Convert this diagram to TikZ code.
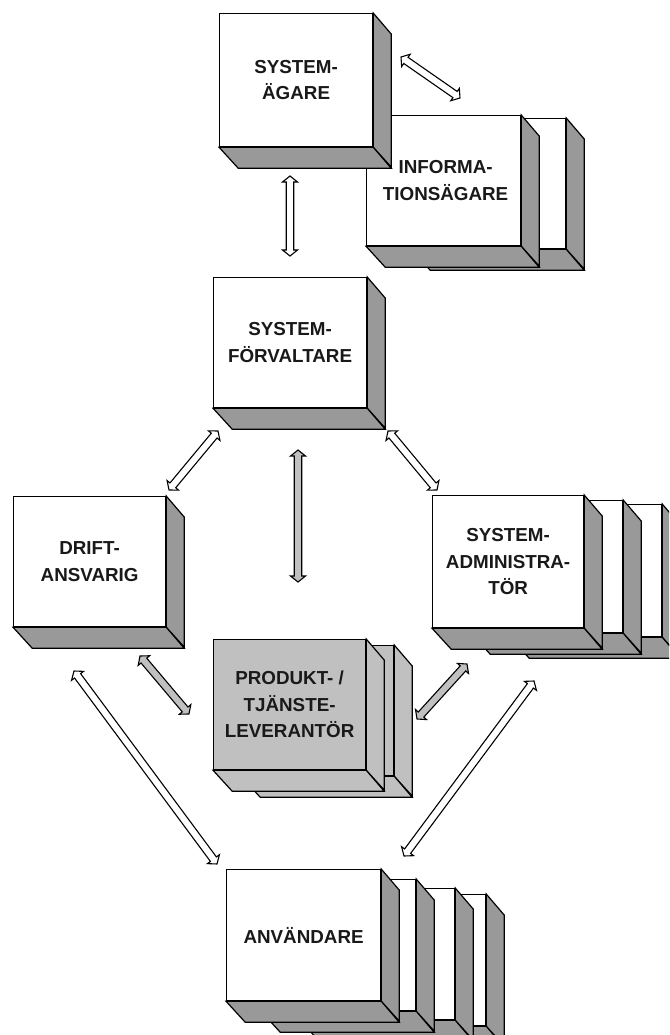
\documentclass[tikz,border=0pt]{standalone}
\usepackage{fontspec}
\setmainfont{Liberation Sans}
\usetikzlibrary{calc}

\definecolor{facegray}{RGB}{153,153,153}
\definecolor{prodgray}{RGB}{192,192,192}

\tikzset{
  slabtext/.style={inner sep=0, align=center, text=black!90,
    font=\fontsize{18.8}{26.5}\selectfont\bfseries},
  slabface/.style={slabtext, draw=black, line width=1.2, anchor=north west},
  slabedge/.style={draw=black, line width=1.2, line join=miter},
  arrowline/.style={draw=black, line width=1.1, line join=miter},
}

% depth of the bevelled sides
\newcommand\slabdx{18}
\newcommand\slabdy{21}

% #1 name, #2 left, #3 top, #4 width, #5 height, #6 face fill, #7 side fill, #8 label
\newcommand\slab[8]{%
  \node[slabface, fill=#6, minimum width=#4, minimum height=#5] (#1) at (#2,#3) {#8};
  \filldraw[slabedge, fill=#7] (#1.north east) -- ++(\slabdx,\slabdy) -- ++(0,#5)
     -- (#1.south east) -- cycle;
  \filldraw[slabedge, fill=#7] (#1.south west) -- (#1.south east) -- ++(\slabdx,\slabdy)
     -- ++(-#4,0) -- cycle;
}

% hollow double-headed block arrow from #1 to #2, filled with #3
\newcommand\blockarrow[3]{%
  \pgfpointdiff{\pgfpointanchor{#1}{center}}{\pgfpointanchor{#2}{center}}%
  \pgfgetlastxy{\arrdx}{\arrdy}%
  \pgfmathsetmacro\arrang{atan2(\arrdy,\arrdx)}%
  \pgfmathsetmacro\arrlen{veclen(\arrdx,\arrdy)}%
  \pgfmathsetmacro\arrback{\arrlen-6}%
  \begin{scope}[shift={(#1)}, rotate=\arrang]
    \filldraw[arrowline, fill=#3] (0,0) -- (6,7.5) -- (6,3.75) -- (\arrback,3.75)
      -- (\arrback,7.5) -- (\arrlen,0) -- (\arrback,-7.5) -- (\arrback,-3.75)
      -- (6,-3.75) -- (6,-7.5) -- cycle;
  \end{scope}}

\begin{document}
\begin{tikzpicture}[x=1pt,y=-1pt]
\useasboundingbox (0,0) rectangle (669,1035);
\clip (0,0) rectangle (669,1035);
\fill[white] (0,0) rectangle (669,1035);

% information owners (stack of two)
\slab{info2}{411}{118}{154}{130}{white}{facegray}{}
\slab{info}{366}{115}{154}{130}{white}{facegray}{}

% system owner, in front of the information owners
\slab{sysag}{219}{13}{153}{133}{white}{facegray}{SYSTEM-\\ÄGARE}
\node[slabtext] (info-text) at ([xshift=2]info.center) {INFORMA-\\TIONSÄGARE};

% system manager
\slab{forv}{213}{277}{153}{130}{white}{facegray}{SYSTEM-\\FÖRVALTARE}

% operations
\slab{drift}{13}{496}{152}{130}{white}{facegray}{DRIFT-\\ANSVARIG}

% system administrators (stack of three)
\slab{adm3}{510}{504}{151}{132}{white}{facegray}{}
\slab{adm2}{471}{500}{151}{132}{white}{facegray}{}
\slab{adm}{432}{495}{151}{132}{white}{facegray}{SYSTEM-\\ADMINISTRA-\\TÖR}

% product / service suppliers (stack of two)
\slab{prod2}{241}{645}{152}{130}{prodgray}{prodgray}{}
\slab{prod}{213}{639}{152}{130}{prodgray}{prodgray}{PRODUKT- /\\TJÄNSTE-\\LEVERANTÖR}

% users (stack of four)
\slab{anv4}{331}{894}{154}{131}{white}{facegray}{}
\slab{anv3}{300}{888}{154}{131}{white}{facegray}{}
\slab{anv2}{261}{879}{154}{131}{white}{facegray}{}
\slab{anv}{226}{869}{154}{131}{white}{facegray}{ANVÄNDARE}

% arrow end points
\coordinate (sa-e) at (401,57);   \coordinate (in-w) at (460,98);
\coordinate (sa-s) at (290,176);  \coordinate (fo-n) at (290,256);
\coordinate (fo-sw) at (218,431); \coordinate (dr-ne) at (169,490);
\coordinate (fo-se) at (388,431); \coordinate (ad-nw) at (437,490);
\coordinate (fo-s) at (298,450);  \coordinate (pr-n) at (298,582);
\coordinate (dr-se) at (140,656); \coordinate (pr-nw) at (189,714);
\coordinate (dr-s) at (74,671);   \coordinate (an-nw) at (217,864);
\coordinate (ad-sw) at (467,664); \coordinate (pr-ne) at (417,719);
\coordinate (ad-s) at (534,681);  \coordinate (an-ne) at (404,856);

\blockarrow{sa-e}{in-w}{white}
\blockarrow{sa-s}{fo-n}{white}
\blockarrow{fo-sw}{dr-ne}{white}
\blockarrow{fo-se}{ad-nw}{white}
\blockarrow{fo-s}{pr-n}{prodgray}
\blockarrow{dr-se}{pr-nw}{prodgray}
\blockarrow{dr-s}{an-nw}{white}
\blockarrow{ad-sw}{pr-ne}{prodgray}
\blockarrow{ad-s}{an-ne}{white}
\end{tikzpicture}
\end{document}
